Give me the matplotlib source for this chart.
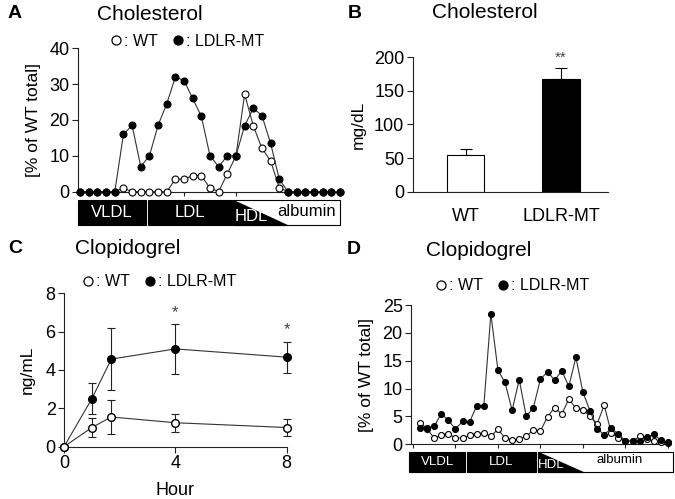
import matplotlib
matplotlib.use('Agg')
import matplotlib.pyplot as plt
import matplotlib.transforms as mtransforms
from matplotlib.patches import Rectangle, Polygon
from matplotlib.lines import Line2D
import numpy as np

plt.rcParams['font.family'] = ['Liberation Sans', 'DejaVu Sans']

W, H = 675, 499

# A: cholesterol elution profile (% of WT total) per fraction
chol_fraction = np.arange(31)
chol_wt = [0, 0, 0, 0, 0, 1, 0, 0, 0, 0, 0, 3.5, 3.5, 4.5, 4.5, 1, 0, 5,
           10, 27.2, 18.4, 12.1, 8.6, 1.1, 0, 0, 0, 0, 0, 0, 0]
chol_ldlr = [0, 0, 0, 0, 0, 16, 18.5, 7, 10, 18.5, 24.5, 32, 31, 26, 21, 10,
             7, 10, 10, 18.4, 23.3, 21.2, 13.5, 3.5, 0, 0, 0, 0, 0, 0, 0]
chol_ticks = [0, 6, 12, 18, 24, 30]

# B: plasma cholesterol
b_groups = ['WT', 'LDLR-MT']
b_mean = [54, 167]
b_err = [10, 17]

# C: plasma clopidogrel time course
c_hours = [0, 1, 1.7, 4, 8]
c_wt = [0, 1.0, 1.55, 1.25, 1.0]
c_wt_err = [0, 0.5, 0.9, 0.46, 0.44]
c_ldlr = [0, 2.5, 4.57, 5.1, 4.67]
c_ldlr_err = [0, 0.8, 1.63, 1.3, 0.81]
c_star_hours = [4, 8]

# D: clopidogrel elution profile per fraction
clop_fraction = np.arange(36)
clop_wt = [3.9, 2.8, 1.07, 1.73, 1.9, 1.13, 1.13, 1.67, 1.9, 2.0, 1.43, 2.7,
           1.13, 0.83, 0.9, 1.43, 2.6, 2.4, 4.96, 6.6, 5.4, 8.1, 6.5, 6.2,
           5.0, 3.7, 7.0, 2.0, 1.2, 0.6, 0.6, 1.4, 0.9, 0.6, 0.5, 0.3]
clop_ldlr = [3.0, 2.9, 3.2, 5.5, 4.3, 2.75, 4.1, 4.0, 6.9, 6.8, 23.4, 13.3,
             11.1, 6.1, 11.6, 5.0, 6.6, 11.7, 13.0, 11.5, 13.2, 10.4, 15.6,
             9.3, 6.0, 2.8, 1.7, 2.9, 1.8, 0.6, 0.6, 0.6, 1.3, 1.8, 0.7, 0.35]
clop_ticks = [-1, 5, 11, 17, 23, 29, 35]

# lipoprotein band limits (fraction units): vldl, ldl, hdl, triangle end, albumin label
band_a = dict(vldl=(-0.27, 7.58), ldl=(7.88, 17.5), hdl=(17.69, 30.0), tri=23.9, alb=26.2)
band_d = dict(vldl=(-1.51, 6.35), ldl=(6.68, 16.33), hdl=(16.6, 35.66), tri=23.05, alb=28.2)

fig = plt.figure(figsize=(W / 100, H / 100), dpi=100)


def px_axes(x0, y0, x1, y1):
    return fig.add_axes([x0 / W, 1 - y1 / H, (x1 - x0) / W, (y1 - y0) / H])


def style(ax, size):
    for s in ['top', 'right']:
        ax.spines[s].set_visible(False)
    for s in ['left', 'bottom']:
        ax.spines[s].set_linewidth(0.8)
        ax.spines[s].set_color('#222222')
    ax.tick_params(labelsize=size, length=4, width=0.8, color='#222222', pad=2)


def profile(ax, x, wt, ldlr, ms):
    ax.plot(x, wt, '-o', color='#333333', lw=0.8, ms=ms, mfc='white',
            mec='black', mew=0.8, clip_on=False, zorder=3)
    ax.plot(x, ldlr, '-o', color='#333333', lw=0.8, ms=ms, mfc='black',
            mec='black', mew=0.8, clip_on=False, zorder=4)


def bands(ax, b, y0, y1, size):
    tr = mtransforms.blended_transform_factory(ax.transData, ax.transAxes)
    for key in ['vldl', 'ldl']:
        a, c = b[key]
        ax.add_patch(Rectangle((a, y1), c - a, y0 - y1, transform=tr,
                               fc='black', ec='black', lw=0.8, clip_on=False))
        ax.text((a + c) / 2, (y0 + y1) / 2, key.upper(), transform=tr, color='white',
                ha='center', va='center', fontsize=size)
    a, c = b['hdl']
    ax.add_patch(Rectangle((a, y1), c - a, y0 - y1, transform=tr,
                           fc='white', ec='black', lw=0.8, clip_on=False))
    ax.add_patch(Polygon([(a, y0), (a, y1), (b['tri'], y1)], closed=True,
                         transform=tr, fc='black', ec='black', lw=0.8, clip_on=False))
    ax.text(a + 0.1, y1 + 0.005, 'HDL', transform=tr, color='white',
            ha='left', va='bottom', fontsize=size)
    ax.text(b['alb'], (y0 + y1) / 2 + 0.01, 'albumin', transform=tr, color='black',
            ha='center', va='center', fontsize=size)


def group_legend(x, y):
    handles = [Line2D([], [], marker='o', ls='none', ms=6.5, mfc=fc, mec='black', mew=0.9)
               for fc in ['white', 'black']]
    fig.legend(handles, [': WT', ': LDLR-MT'], loc='center left',
               bbox_to_anchor=(x / W, 1 - y / H), ncol=2, frameon=False,
               fontsize=11.5, handlelength=0.6, handletextpad=0.2,
               columnspacing=1.0, borderpad=0, borderaxespad=0)


# ---------------- A ----------------
axA = px_axes(78, 48.3, 342, 191.7)
style(axA, 13)
profile(axA, chol_fraction, chol_wt, chol_ldlr, 5)
axA.set_xlim(-0.25, 30.25)
axA.set_ylim(0, 40)
axA.set_yticks([0, 10, 20, 30, 40])
axA.set_xticks(chol_ticks)
axA.set_xticklabels([])
axA.tick_params(axis='x', length=3)
axA.set_ylabel('[% of WT total]', fontsize=12.5, labelpad=6)
bands(axA, band_a, -0.058, -0.232, 12)

# ---------------- B ----------------
axB = px_axes(412.7, 57.3, 608, 191.7)
style(axB, 13)
xb = np.arange(len(b_groups))
axB.bar(xb, b_mean, width=0.39, color=['white', 'black'], edgecolor='black',
        linewidth=0.8, zorder=2)
axB.errorbar(xb, b_mean, yerr=[[0, 0], b_err], fmt='none', ecolor='black',
             elinewidth=0.8, capsize=4, capthick=0.8, zorder=1)
axB.annotate('**', (xb[1], b_mean[1] + b_err[1]), xytext=(0, 2),
             textcoords='offset points', ha='center', va='bottom',
             fontsize=11, color='#444444', annotation_clip=False)
axB.set_xlim(-0.553, 1.492)
axB.set_ylim(0, 200)
axB.set_yticks([0, 50, 100, 150, 200])
axB.set_xticks(xb)
axB.set_xticklabels(b_groups)
axB.tick_params(axis='x', length=0, pad=12)
axB.set_ylabel('mg/dL', fontsize=12.5, labelpad=6)

# ---------------- C ----------------
axC = px_axes(64, 293.3, 286.7, 446.7)
style(axC, 13)
axC.errorbar(c_hours, c_ldlr, yerr=c_ldlr_err, fmt='-o', color='#333333', lw=0.8,
             ms=5.5, mfc='black', mec='black', ecolor='#222222', elinewidth=0.8,
             capsize=3, capthick=0.8, clip_on=False, zorder=3)
axC.errorbar(c_hours, c_wt, yerr=c_wt_err, fmt='-o', color='#333333', lw=0.8,
             ms=5.5, mfc='white', mec='black', ecolor='#222222', elinewidth=0.8,
             capsize=3, capthick=0.8, clip_on=False, zorder=3)
for h in c_star_hours:
    i = c_hours.index(h)
    axC.annotate('*', (h, c_ldlr[i] + c_ldlr_err[i]), xytext=(0, 3),
                 textcoords='offset points', ha='center', va='bottom',
                 fontsize=12, color='#444444', annotation_clip=False)
axC.set_xlim(0, 8)
axC.set_ylim(0, 8)
axC.set_xticks([0, 4, 8])
axC.set_yticks([0, 2, 4, 6, 8])
axC.set_xlabel('Hour', fontsize=13, labelpad=7)
axC.set_ylabel('ng/mL', fontsize=12.5, labelpad=8)

# ---------------- D ----------------
axD = px_axes(411, 305, 670, 444.3)
style(axD, 13)
profile(axD, clop_fraction, clop_wt, clop_ldlr, 4.3)
axD.set_xlim(-1.27, 35.28)
axD.set_ylim(0, 25)
axD.set_yticks([0, 5, 10, 15, 20, 25])
axD.set_xticks(clop_ticks)
axD.set_xticklabels([])
axD.tick_params(axis='x', length=3)
axD.set_ylabel('[% of WT total]', fontsize=12.5, labelpad=6)
bands(axD, band_d, -0.053, -0.197, 9.5)

# panel letters, titles, legends
for lab, x, y in [('A', 8, 14), ('B', 348, 14), ('C', 8, 248), ('D', 347, 250)]:
    fig.text(x / W, 1 - y / H, lab, fontsize=14, fontweight='bold', va='center')
for x, y, t in [(97, 14, 'Cholesterol'), (432, 13, 'Cholesterol'),
                (75, 248, 'Clopidogrel'), (426, 250, 'Clopidogrel')]:
    fig.text(x / W, 1 - y / H, t, fontsize=15, va='center')
for x, y in [(111, 41), (83, 282), (436, 286)]:
    group_legend(x, y)

fig.savefig('out.png', dpi=100)
